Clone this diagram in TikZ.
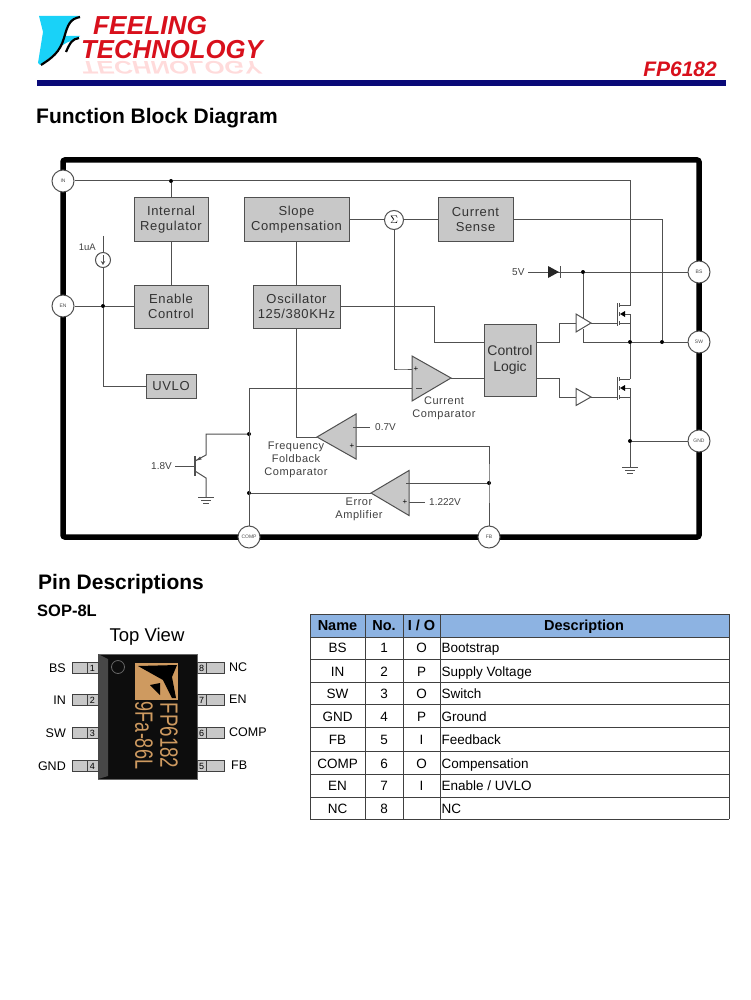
\documentclass[tikz,border=0pt]{standalone}
\usepackage{fontspec}
\setmainfont{Liberation Sans}
\usetikzlibrary{arrows.meta, positioning, calc}

\definecolor{boxgrey}{HTML}{C8C8C8}
\definecolor{wiregrey}{HTML}{505050}
\definecolor{logored}{HTML}{D8101C}
\definecolor{logocyan}{HTML}{19D2F8}
\definecolor{barblue}{HTML}{0A0A78}
\definecolor{headblue}{HTML}{8DB3E2}
\definecolor{marktan}{HTML}{CE9A60}

\newcommand{\fsz}[1]{\fontsize{#1}{#1}\selectfont\setlength\baselineskip{1.18\baselineskip}}
\newcommand{\spc}{\addfontfeature{LetterSpace=5}}

\begin{document}
\begin{tikzpicture}[
  x=1pt, y=-1pt,
  font=\fsz{12},
  >={Stealth[length=3pt]},
  block/.style={draw=wiregrey, fill=boxgrey, line width=1pt, align=center,
                inner sep=0pt, text=black!80, font=\fsz{13}\spc},
  wire/.style={draw=wiregrey, line width=1pt},
  tri/.style={draw=wiregrey, line width=1pt, line join=miter, fill=#1},
  tri/.default=boxgrey,
  jn/.style={circle, fill=black, inner sep=0pt, minimum size=4pt},
  term/.style={circle, draw=wiregrey, fill=white, line width=1pt, inner sep=0pt,
               minimum size=22pt, font=\fsz{5}, text=black!70},
  lab/.style={inner sep=0pt, align=center, text=black!75, font=\fsz{11}\spc},
  vlab/.style={inner sep=0pt, text=black!75, font=\fsz{10}},
  head/.style={inner sep=0pt, anchor=west, font=\bfseries\fsz{#1}},
  pad/.style={draw=black!75, fill=boxgrey, line width=0.8pt, inner sep=0pt,
              minimum height=11pt, font=\fsz{9}},
  padlab/.style={inner sep=0pt, font=\fsz{12.5}},
  cell/.style={inner sep=0pt, text height=10pt, text depth=0pt, font=\fsz{13.5}},
  hcell/.style={inner sep=0pt, text height=10pt, text depth=0pt, font=\bfseries\fsz{14.5}},
  gridline/.style={draw=black!75, line width=0.9pt},
]
\useasboundingbox (0,0) rectangle (750,1000);

% ---------- Header ----------
\fill[logocyan] (39,16) -- (80,16) -- (72,21) -- (66,30) -- (64,36) -- (80,36) -- (75,40)
  -- (68,42) -- (61,46) -- (52,56) -- (40,65) -- (38,63) -- (43,32) -- cycle;
\draw[black, line width=2.2pt] (80,17) .. controls (70,19) and (68,24) .. (64,38)
  .. controls (60,52) and (52,58) .. (41,65);
\draw[black, line width=2.2pt] (79,38) .. controls (72,39) and (70,43) .. (66,52);
\node[inner sep=0pt, anchor=west, text=red!14, yscale=-0.7, xscale=0.98,
      font=\itshape\bfseries\fsz{26}] (techshadow) at (81,68) {TECHNOLOGY};
\node[inner sep=0pt, anchor=west, text=logored, xscale=1.01,
      font=\itshape\bfseries\fsz{26}] (feeling) at (93,26) {FEELING};
\node[inner sep=0pt, anchor=west, text=logored, xscale=0.99,
      font=\itshape\bfseries\fsz{26}] (tech) at (81,50) {TECHNOLOGY};
\node[inner sep=0pt, anchor=east, text=logored, font=\itshape\bfseries\fsz{21}]
      (part) at (717,69) {FP6182};
\fill[barblue] (37,80) rectangle (726,86);
\node[head=21] (fbd) at (36,118) {Function Block Diagram};

% ---------- Package outline ----------
\draw[line width=5.5pt, rounded corners=2pt] (63,160) rectangle (699,537);

% ---------- Pins ----------
\node[term] (in)   at (63,181)  {IN};
\node[term] (ena)  at (63,306)  {EN};
\node[term] (bs)   at (699,272) {BS};
\node[term] (sw)   at (699,342) {SW};
\node[term] (gnd)  at (699,441) {GND};
\node[term] (fb)   at (489,537) {FB};
\node[term] (comp) at (249,537) {COMP};

% ---------- Blocks ----------
\node[block, minimum width=74pt, minimum height=43pt] (reg) at (171,219.5) {Internal\\Regulator};
\node[block, minimum width=74pt, minimum height=43pt, below=43pt of reg] (enc) {Enable\\Control};
\node[block, minimum width=105pt, minimum height=43pt] (slope) at (296.5,219.5) {Slope\\Compensation};
\node[block, minimum width=87pt, minimum height=43pt, below=43pt of slope] (osc) {Oscillator\\125/380KHz};
\node[block, minimum width=75pt, minimum height=43pt] (sense) at (475.5,219.5) {Current\\Sense};
\node[block, minimum width=50pt, minimum height=24pt] (uvlo) at (171,386) {UVLO};
\node[block, minimum width=52pt, minimum height=72pt, font=\fsz{14}] (ctrl) at (510,360) {Control\\Logic};
\node[circle, draw=wiregrey, fill=white, line width=1pt, inner sep=0pt,
      minimum size=19pt, font=\fsz{11}] (sum) at (394,220) {$\Sigma$};
\node[circle, draw=wiregrey, fill=white, line width=1pt, inner sep=0pt,
      minimum size=15pt] (isrc) at (103,260) {};

% ---------- Junctions ----------
\node[jn] (j1) at (171,181) {};
\node[jn] (j2) at (103,306) {};
\node[jn] (j3) at (583,272) {};
\node[jn] (j4) at (630,342) {};
\node[jn] (j5) at (662,342) {};
\node[jn] (j6) at (630,441) {};
\node[jn] (j7) at (249,434) {};
\node[jn] (j8) at (249,493) {};
\node[jn] (j9) at (489,483) {};

% ---------- Amplifiers ----------
\coordinate (ccp) at (412,369);
\coordinate (ccm) at (412,388);
\coordinate (cco) at (451,378);
\coordinate (ffp) at (356,446);
\coordinate (ffm) at (356,427);
\coordinate (ffo) at (317,437);
\coordinate (eap) at (409,502);
\coordinate (eam) at (409,483);
\coordinate (eao) at (371,493);
\coordinate (up) at (576,323);
\coordinate (upo) at (591,323);
\coordinate (lo) at (576,397);
\coordinate (loo) at (591,397);

\draw[wire] (cco -| ctrl.west) -- (cco);
\draw[wire] (osc.south) |- (ffo);
\draw[wire] (ffm) ++(-5,0) -- ++(19,0) coordinate (ffv);
\draw[wire] (ffp) ++(-5,0) -- ++(138,0) -- (j9.north) -- (fb.north);
\draw[wire] (j9) -- ($(eam)+(-5,0)$);
\draw[wire] (eap) ++(-5,0) -- ++(21,0) coordinate (eav);
\draw[wire] (ccp) ++(5,0) -- ++(-18,0) -| (sum.south);
\draw[wire] (ccm) ++(5,0) -- (ccm -| comp) -- (comp.north);
\draw[wire] (eao) -- (j8);

\draw[tri] (412,356) -- (412,401) -- (cco) -- cycle;
\draw[tri] (356,414) -- (356,459) -- (ffo) -- cycle;
\draw[tri] (409,470.5) -- (409,515.5) -- (eao) -- cycle;
\draw[wire] (ccm) ++(4,0) -- ++(6,0);
\draw[wire] (ffm) ++(-3,0) -- ++(6,0);
\draw[wire] (eam) ++(-3,0) -- ++(6,0);
\node[inner sep=0pt, font=\fsz{8}] (ccplus) at (416,369.5) {+};
\node[inner sep=0pt, font=\fsz{8}] (ffplus) at (352,446) {+};
\node[inner sep=0pt, font=\fsz{8}] (eaplus) at (405,502) {+};
\node[vlab, anchor=west] (v07) at (375,427) {0.7V};
\node[vlab, anchor=west] (v1222) at (429,502) {1.222V};
\node[lab] (cclab) at (444,408.5) {Current\\Comparator};
\node[lab, anchor=north] (fflab) at (296,442) {Frequency\\Foldback\\Comparator};
\node[lab] (ealab) at (359,509.5) {Error\\Amplifier};

% ---------- Connections ----------
\draw[wire] (in) -- (j1) -- (630,181) |- (620,305) coordinate (updrain);
\draw[wire] (j1) -- (reg);
\draw[wire] (reg) -- (enc);
\draw[wire] (slope.south) -- (osc.north);
\draw[wire] (slope.east |- sum) -- (sum);
\draw[wire] (sum) -- (sense.west |- sum);
\draw[wire] (sense.east |- sum) -| (j5) -- (sw);
\draw[wire] (osc.east) -- (434,306.5) |- (ctrl.west |- 0,342);
\draw[wire] (ena) -- (j2) -- (enc.west |- j2);
\draw[wire] (103,236) -- (isrc) (isrc) -- (j2) |- (uvlo.west);
\draw[wire, -{Stealth[length=4pt, width=4.5pt]}] (isrc.center) ++(0,-5) -- ++(0,10);
\node[vlab, anchor=east, font=\fsz{9.5}] (ua) at (96,247) {1uA};

% ---------- Diode and buffers ----------
\node[vlab, anchor=west] (v5) at (512,272) {5V};
\draw[wire] (528,272) -- (j3) -- (bs);
\fill[black!85] (548,266) -- (548,278) -- (559,272) -- cycle;
\draw[wire] (560,266) -- (560,278);
\draw[wire] (j3) -- (583,318);
\draw[wire] (583,329) -- (583,342) -- (j4) -- (j5);
\draw[wire] (ctrl.east |- 0,342) -- (559,342) |- (up);
\draw[wire] (ctrl.east |- 0,378) -- (559,378) |- (lo);
\draw[tri=white] (576,314) -- (576,332) -- (upo) -- cycle;
\draw[tri=white] (576,388.5) -- (576,405.5) -- (loo) -- cycle;
\draw[wire] (upo) -- (617,323);
\draw[wire] (loo) -- (617,397);

% ---------- Power switches ----------
\foreach \yo/\nm in {0/hi, 74/lo} {
  \draw[wire] (617,303+\yo) -- (617,326+\yo);
  \draw[wire] (619,303+\yo) -- (619,307+\yo) (619,312+\yo) -- (619,316+\yo) (619,321+\yo) -- (619,325+\yo);
  \draw[wire] (619,305+\yo) -- (630,305+\yo);
  \draw[wire] (619,323+\yo) -- (630,323+\yo);
  \draw[wire] (624,314+\yo) -- (630,314+\yo);
  \fill[black] (620,314+\yo) -- (625,311+\yo) -- (625,317+\yo) -- cycle;
}
\draw[wire] (630,314) -- (j4) -- (630,379);
\draw[wire] (630,388) -- (j6) -- (630,467) coordinate (gnda);
\draw[wire] (j6) -- (gnd);
\draw[wire] (gnda) ++(-8,0) -- ++(16,0) ++(-13,3) -- ++(10,0) ++(-8,3) -- ++(6,0);

% ---------- Transistor ----------
\node[vlab, anchor=east] (v18) at (172,466) {1.8V};
\draw[wire] (175,466) -- (195,466);
\draw[wire, line width=1.2pt] (195,456) -- (195,476);
\draw[wire] (195,461) -- (206,455) |- (j7);
\draw[wire] (195,471) -- (206,478) -- (206,497) coordinate (gndb);
\fill[wiregrey] (196,460.5) -- (200,456.5) -- (201.5,459.5) -- cycle;
\draw[wire] (gndb) ++(-8,0) -- ++(16,0) ++(-13,3) -- ++(10,0) ++(-8,3) -- ++(6,0);

% ---------- Pin Descriptions ----------
\node[head=21] (pdh) at (38,584) {Pin Descriptions};
\node[head=16.5] (sop) at (37,611) {SOP-8L};
\node[inner sep=0pt, font=\fsz{18.5}] (top) at (147,637) {Top View};

% package body with marking
\fill[black!95] (98,654) rectangle (197,779);
\draw[black!60, line width=0.8pt] (98,654) rectangle (197,779);
\fill[black!72] (98,654) -- (108,659) -- (108,776) -- (98,779) -- cycle;
\draw[black!60, line width=0.8pt] (118,667) circle (6.5);
\fill[marktan] (135,663) rectangle (178,700);
\fill[black] (138,666) -- (177,665) -- (172,677) -- (176,698) -- (172,698)
  -- (163,680) -- cycle;
\fill[black] (150,685) -- (160,683) -- (160,695) -- cycle;
\node[rotate=-90, xscale=0.75, inner sep=0pt, text=marktan, font=\fsz{25}] (mark1) at (169,735.5) {FP6182};
\node[rotate=-90, xscale=0.72, inner sep=0pt, text=marktan, font=\fsz{25}] (mark2) at (144,735.5) {9Fa-86L};

\foreach \num/\yy/\nm in {1/668/BS, 2/700/IN, 3/733/SW, 4/766/GND} {
  \node[pad, minimum width=15pt] (lpa\num) at (79.5,\yy) {};
  \node[pad, minimum width=11pt] (lpb\num) at (92.5,\yy) {\num};
  \node[padlab, anchor=east] (ln\num) at (66,\yy) {\nm};
}
\foreach \num/\yy/\nm in {8/668/NC, 7/700/EN, 6/733/COMP} {
  \node[pad, minimum width=18pt] (rpa\num) at (215,\yy) {};
  \node[pad, minimum width=9pt] (rpb\num) at (201.5,\yy) {\num};
  \node[padlab, anchor=west] (rn\num) at (229,\yy-0.5) {\nm};
}
\node[pad, minimum width=18pt] (rpa5) at (215,766) {};
\node[pad, minimum width=9pt] (rpb5) at (201.5,766) {5};
\node[padlab, anchor=west] (rn5) at (231,765) {FB};

% ---------- Table ----------
\fill[headblue] (310,614) rectangle (729,637);
\foreach \yy in {614,637,659,682,704,727,751,774,797,819} {
  \draw[gridline] (310,\yy) -- (729,\yy);
}
\foreach \xx in {310,365,403,440,729} {
  \draw[gridline] (\xx,614) -- (\xx,819);
}
\node[hcell] (hname) at (337.5,625.5) {Name};
\node[hcell] (hno) at (384,625.5) {No.};
\node[hcell] (hio) at (421.5,625.5) {I / O};
\node[hcell] (hdesc) at (584,625.5) {Description};
\foreach \yy/\nm/\num/\io/\desc in {
    647.7/BS/1/O/Bootstrap, 671/IN/2/P/Supply Voltage, 693/SW/3/O/Switch,
    716/GND/4/P/Ground, 739/FB/5/I/Feedback, 763/COMP/6/O/Compensation,
    785/EN/7/I/{Enable / UVLO}, 808/NC/8//NC} {
  \node[cell] (name\num) at (337.5,\yy) {\nm};
  \node[cell] (no\num) at (384,\yy) {\num};
  \node[cell] (io\num) at (421.5,\yy) {\io};
  \node[cell, anchor=west] (desc\num) at (441.5,\yy) {\desc};
}

\end{tikzpicture}
\end{document}
